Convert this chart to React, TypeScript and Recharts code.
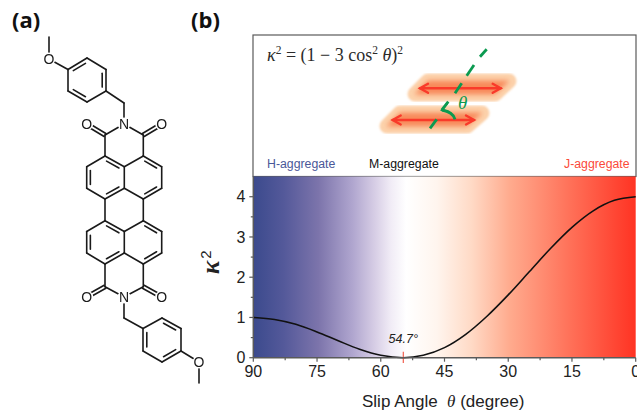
import { ComposedChart, Line, XAxis, YAxis, ReferenceArea, ReferenceLine, Label } from 'recharts'

// values
const slipAngles = [90, 85, 80, 75, 70, 65, 60, 54.7, 50, 45, 40, 35, 30, 25, 20, 15, 10, 5, 0]
const kappaSquared = [1.0, 0.95, 0.83, 0.64, 0.42, 0.21, 0.06, 0, 0.06, 0.25, 0.58, 1.03, 1.56, 2.14, 2.72, 3.24, 3.65, 3.91, 4.0]
const xTicks = [90, 82.5, 75, 67.5, 60, 52.5, 45, 37.5, 30, 22.5, 15, 7.5, 0]
const yTicks = [0, 0.5, 1, 1.5, 2, 2.5, 3, 3.5, 4]

const chartData = slipAngles.map((angle, i) => ({ angle, kappa: kappaSquared[i] }))

const FONT = '"Liberation Sans", Arial, sans-serif'
const AXIS_COLOR = '#5a5a5a'
const GREEN = '#0b9a50'
const RED = '#f93a2a'

const gradientStops: [string, string][] = [
  ['0%', '#3b4a8d'],
  ['8%', '#54599a'],
  ['17%', '#7c74ab'],
  ['26%', '#b0a6cf'],
  ['32%', '#d8cfe6'],
  ['36%', '#f1ecf6'],
  ['40%', '#ffffff'],
  ['48%', '#fff5ee'],
  ['57%', '#ffdac6'],
  ['67%', '#ffab8e'],
  ['83%', '#ff7058'],
  ['100%', '#ff3323']
]

const XTick = ({ x, y, payload }: any) => {
  const major = payload.value % 15 === 0
  return (
    <g>
      <line x1={x} x2={x} y1={y} y2={y + (major ? 4 : 2.5)} stroke={AXIS_COLOR} strokeWidth={1.2} />
      {major && (
        <text x={x} y={y + 18.8} textAnchor="middle" fontSize={16} fontFamily={FONT} fill="#222">
          {payload.value}
        </text>
      )}
    </g>
  )
}

const YTick = ({ x, y, payload }: any) => {
  const major = Number.isInteger(payload.value)
  return (
    <g>
      <line x1={x} x2={x - (major ? 4 : 2.5)} y1={y} y2={y} stroke={AXIS_COLOR} strokeWidth={1.2} />
      {major && (
        <text x={x - 8} y={y + 5.6} textAnchor="end" fontSize={16} fontFamily={FONT} fill="#222">
          {payload.value}
        </text>
      )}
    </g>
  )
}

const XTitle = () => (
  <text x={362} y={407} fontSize={17} fontFamily={FONT} fill="#222">
    Slip Angle{'\u00a0\u00a0'}
    <tspan fontStyle="italic" fontFamily='"Liberation Serif", serif'>θ</tspan>
    <tspan> (degree)</tspan>
  </text>
)

const YTitle = () => (
  <text transform="rotate(-90 219 274)" x={219} y={274} fontFamily='"Liberation Serif", serif' fill="#222">
    <tspan fontSize={25} fontStyle="italic" fontWeight="bold">κ</tspan>
    <tspan fontSize={15} dx={2} dy={-8} fontFamily={FONT}>2</tspan>
  </text>
)

// --- molecule drawing
type Seg = [number, number, number, number]

const plainBonds: Seg[] = [
  // core, upper naphthalene
  [105, 156, 86.7, 166.7], [86.7, 166.7, 86.7, 188.3], [86.7, 188.3, 105, 199], [105, 199, 124.3, 188.3],
  [124.3, 188.3, 124.3, 166.7], [124.3, 166.7, 105, 156], [124.3, 166.7, 143.3, 156], [143.3, 156, 161.7, 166.7],
  [161.7, 166.7, 161.7, 188.3], [161.7, 188.3, 143.3, 199], [143.3, 199, 124.3, 188.3],
  // links between the naphthalenes
  [105, 199, 105, 220.7], [143.3, 199, 143.3, 220.7],
  // core, lower naphthalene
  [105, 220.7, 86.7, 231.5], [86.7, 231.5, 86.7, 253], [86.7, 253, 105, 264], [105, 264, 124.3, 253],
  [124.3, 253, 124.3, 231.5], [124.3, 231.5, 105, 220.7], [124.3, 231.5, 143.3, 220.7], [143.3, 220.7, 161.7, 231.5],
  [161.7, 231.5, 161.7, 253], [161.7, 253, 143.3, 264], [143.3, 264, 124.3, 253],
  // upper imide
  [105, 156, 105, 135], [143.3, 156, 143.3, 135], [105, 135, 124, 124], [143.3, 135, 124, 124], [124, 124, 124, 103], [124, 103, 106, 91],
  // upper benzene and methoxy
  [106, 91, 106, 69.5], [106, 69.5, 87, 58], [87, 58, 68, 69.5], [68, 69.5, 68, 91], [68, 91, 87, 102], [87, 102, 106, 91],
  [68, 69.5, 49, 59], [49, 59, 49, 37],
  // lower imide
  [105, 264, 105, 286.7], [143.3, 264, 143.3, 286.7], [105, 286.7, 124, 297], [143.3, 286.7, 124, 297], [124, 297, 124, 318], [124, 318, 143, 328.5],
  // lower benzene and methoxy
  [143, 328.5, 143, 351], [143, 351, 162, 362], [162, 362, 181, 351], [181, 351, 181, 328.5], [181, 328.5, 162, 318], [162, 318, 143, 328.5],
  [181, 351, 199, 362], [199, 362, 199, 383]
]

// inner line of an aromatic double bond, pulled toward the ring centre
const innerBonds: { seg: Seg; cx: number; cy: number }[] = [
  { seg: [86.7, 166.7, 86.7, 188.3], cx: 105, cy: 177.5 },
  { seg: [105, 156, 124.3, 166.7], cx: 105, cy: 177.5 },
  { seg: [105, 199, 124.3, 188.3], cx: 105, cy: 177.5 },
  { seg: [143.3, 156, 161.7, 166.7], cx: 143.3, cy: 177.5 },
  { seg: [161.7, 188.3, 143.3, 199], cx: 143.3, cy: 177.5 },
  { seg: [86.7, 231.5, 86.7, 253], cx: 105, cy: 242.3 },
  { seg: [105, 220.7, 124.3, 231.5], cx: 105, cy: 242.3 },
  { seg: [105, 264, 124.3, 253], cx: 105, cy: 242.3 },
  { seg: [143.3, 220.7, 161.7, 231.5], cx: 143.3, cy: 242.3 },
  { seg: [161.7, 253, 143.3, 264], cx: 143.3, cy: 242.3 },
  { seg: [68, 69.5, 87, 58], cx: 87, cy: 80 },
  { seg: [106, 69.5, 106, 91], cx: 87, cy: 80 },
  { seg: [68, 91, 87, 102], cx: 87, cy: 80 },
  { seg: [143, 328.5, 143, 351], cx: 162, cy: 340 },
  { seg: [162, 318, 181, 328.5], cx: 162, cy: 340 },
  { seg: [162, 362, 181, 351], cx: 162, cy: 340 }
]

const carbonyls: Seg[] = [
  [105, 135, 86.7, 124],
  [143.3, 135, 161.7, 124],
  [105, 286.7, 86.7, 297],
  [143.3, 286.7, 161.7, 297]
]

const atoms: [string, number, number][] = [
  ['O', 49, 59], ['N', 124, 124], ['O', 86.7, 124], ['O', 161.7, 124],
  ['N', 124, 297], ['O', 86.7, 297], ['O', 161.7, 297], ['O', 199, 362]
]

const shrinkToward = ([x1, y1, x2, y2]: Seg, cx: number, cy: number): Seg => {
  const pull = 0.2
  const move = (x: number, y: number) => [x + (cx - x) * pull, y + (cy - y) * pull]
  const [a, b] = move(x1 + (x2 - x1) * 0.1, y1 + (y2 - y1) * 0.1)
  const [c, d] = move(x2 - (x2 - x1) * 0.1, y2 - (y2 - y1) * 0.1)
  return [a, b, c, d]
}

const Molecule = () => (
  <g stroke="#1a1a1a" strokeWidth={1.6} strokeLinecap="round" style={{ filter: 'blur(0.3px)' }}>
    {plainBonds.map((s, i) => <line key={i} x1={s[0]} y1={s[1]} x2={s[2]} y2={s[3]} />)}
    {innerBonds.map((b, i) => {
      const s = shrinkToward(b.seg, b.cx, b.cy)
      return <line key={i} x1={s[0]} y1={s[1]} x2={s[2]} y2={s[3]} />
    })}
    {carbonyls.map((s, i) => {
      const dx = s[2] - s[0]
      const dy = s[3] - s[1]
      const len = Math.hypot(dx, dy)
      const nx = (-dy / len) * 1.7
      const ny = (dx / len) * 1.7
      return (
        <g key={i}>
          <line x1={s[0] + nx} y1={s[1] + ny} x2={s[2] + nx} y2={s[3] + ny} />
          <line x1={s[0] - nx} y1={s[1] - ny} x2={s[2] - nx} y2={s[3] - ny} />
        </g>
      )
    })}
    {atoms.map(([label, x, y], i) => (
      <g key={i}>
        <circle cx={x} cy={y} r={6.5} fill="#fff" stroke="none" />
        <text x={x} y={y + 5} textAnchor="middle" fontSize={14} fontFamily={FONT} fill="#1a1a1a" stroke="none">
          {label}
        </text>
      </g>
    ))}
  </g>
)

// --- schematic in the panel above the plot
const Lozenge = ({ points }: { points: string }) => (
  <g>
    <polygon points={points} fill="#fcd2ab" stroke="#fcd2ab" strokeWidth={15} strokeLinejoin="round" filter="url(#soft)" />
    <polygon points={points} fill="#f8895a" stroke="#f8895a" strokeWidth={1} strokeLinejoin="round" filter="url(#softer)" />
  </g>
)

const DoubleArrow = ({ x1, x2, y }: { x1: number; x2: number; y: number }) => (
  <g stroke={RED} strokeWidth={2.4} fill="none" strokeLinecap="round">
    <line x1={x1} x2={x2} y1={y} y2={y} />
    <polyline points={`${x1 + 8},${y - 4.5} ${x1},${y} ${x1 + 8},${y + 4.5}`} />
    <polyline points={`${x2 - 8},${y - 4.5} ${x2},${y} ${x2 - 8},${y + 4.5}`} />
  </g>
)

const dashSegments: Seg[] = [
  [430, 128.3, 436.7, 119.3],
  [441.7, 110, 448.3, 101.7],
  [455, 93.3, 461.7, 83.3],
  [466.7, 75.7, 474, 65],
  [480, 56.7, 486.7, 49.3]
]

const Schematic = () => (
  <g>
    <defs>
      <filter id="soft" x="-20%" y="-60%" width="140%" height="220%">
        <feGaussianBlur stdDeviation="0.9" />
      </filter>
      <filter id="softer" x="-20%" y="-80%" width="140%" height="260%">
        <feGaussianBlur stdDeviation="2.8" />
      </filter>
    </defs>
    <Lozenge points="428,81 509,81 495,94 415,94" />
    <Lozenge points="400,113 482,113 467,126 387,126" />
    <DoubleArrow x1={420} x2={500.7} y={88.3} />
    <DoubleArrow x1={392.7} x2={474} y={120} />
    <g stroke={GREEN} strokeWidth={2.8} fill="none">
      {dashSegments.map((s, i) => <line key={i} x1={s[0]} y1={s[1]} x2={s[2]} y2={s[3]} />)}
      <path d="M455 119.3 Q453 112 442 110" />
      <polyline points="447.5,103 442,110 449.5,112" strokeWidth={2.2} />
    </g>
    <text x={458} y={109} fontSize={19} fontStyle="italic" fontFamily='"Liberation Serif", serif' fill={GREEN}>θ</text>
  </g>
)

const Panel = () => (
  <g>
    <rect x={253} y={35} width={383} height={141.5} fill="#fff" stroke={AXIS_COLOR} strokeWidth={1.2} />
    <text x={267} y={61} fontSize={18} fontFamily='"Liberation Serif", serif' fill="#2b2b2b" xmlSpace="preserve">
      <tspan fontStyle="italic">κ</tspan>
      <tspan fontSize={11.5} dy={-7}>2</tspan>
      <tspan dy={7}> = (1 − 3 cos</tspan>
      <tspan fontSize={11.5} dy={-7}>2</tspan>
      <tspan dy={7}> </tspan>
      <tspan fontStyle="italic">θ</tspan>
      <tspan>)</tspan>
      <tspan fontSize={11.5} dy={-7}>2</tspan>
    </text>
    <Schematic />
    <text x={267} y={168} fontSize={12.3} fontFamily={FONT} fill="#4a5898">H-aggregate</text>
    <text x={369} y={168} fontSize={12.3} fontFamily={FONT} fill="#111">M-aggregate</text>
    <text x={564} y={168} fontSize={12.3} fontFamily={FONT} fill="#fb4a3a">J-aggregate</text>
  </g>
)

export default function App() {
  return (
    <div style={{ position: 'absolute', left: 0, top: 0, width: 637, height: 412, background: '#fff', overflow: 'hidden' }}>
      <svg width={637} height={412} style={{ position: 'absolute', left: 0, top: 0 }}>
        <text x={12} y={28} fontSize={22} fontWeight="bold" fontFamily='"Open Sans", sans-serif' fill="#111">(a)</text>
        <text x={191} y={28} fontSize={22} fontWeight="bold" fontFamily='"Open Sans", sans-serif' fill="#111">(b)</text>
        <Molecule />
        <Panel />
      </svg>
      <div style={{ position: 'absolute', left: 0, top: 0 }}>
        <ComposedChart
          width={637}
          height={412}
          data={chartData}
          margin={{ top: 176.6, right: 1.3, bottom: 14.3, left: 213.3 }}
        >
          <defs>
            <linearGradient id="plotGradient" x1="0" y1="0" x2="1" y2="0">
              {gradientStops.map(([offset, color]) => (
                <stop key={offset} offset={offset} stopColor={color} />
              ))}
            </linearGradient>
          </defs>
          <XAxis
            dataKey="angle"
            type="number"
            domain={[0, 90]}
            reversed
            ticks={xTicks}
            interval={0}
            height={40}
            tickLine={false}
            tickSize={0}
            tickMargin={0}
            tick={<XTick />}
            stroke={AXIS_COLOR}
            strokeWidth={1.5}
          >
            <Label content={<XTitle />} />
          </XAxis>
          <YAxis
            type="number"
            domain={[0, 4.5]}
            ticks={yTicks}
            interval={0}
            width={40}
            tickLine={false}
            tickSize={0}
            tickMargin={0}
            tick={<YTick />}
            stroke={AXIS_COLOR}
            strokeWidth={1.5}
          >
            <Label content={<YTitle />} />
          </YAxis>
          <ReferenceArea x1={90} x2={0} y1={0} y2={4.5} fill="url(#plotGradient)" fillOpacity={1} stroke="none" />
          <Line
            dataKey="kappa"
            type="monotone"
            stroke="#111"
            strokeWidth={1.6}
            dot={false}
            activeDot={false}
            isAnimationActive={false}
          />
          <ReferenceLine
            segment={[{ x: 54.7, y: -0.13 }, { x: 54.7, y: 0.15 }]}
            stroke="#f0503f"
            strokeWidth={1.1}
            ifOverflow="visible"
            label={{ value: '54.7°', position: 'top', fontSize: 12.5, fontStyle: 'italic', fontFamily: FONT, fill: '#222', dy: -4 }}
          />
        </ComposedChart>
      </div>
    </div>
  )
}
